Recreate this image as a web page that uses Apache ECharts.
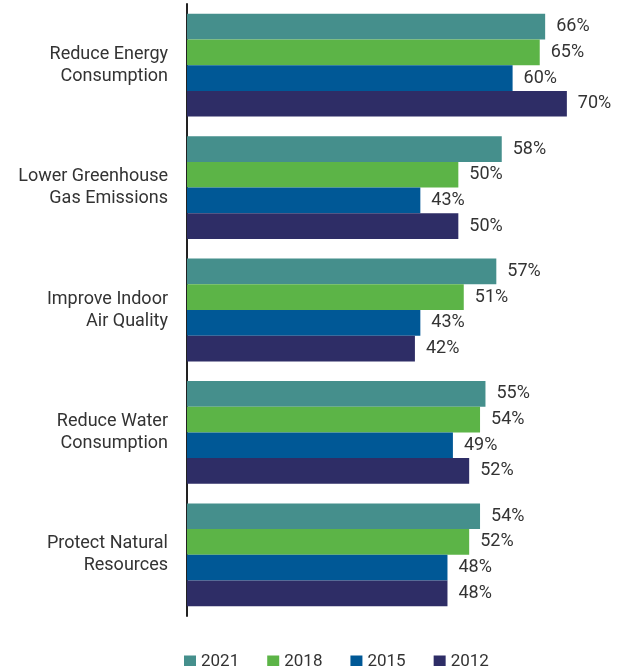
<!doctype html>
<html>
<head>
<meta charset="UTF-8">
<title>Goals</title>
<style>
html,body{margin:0;padding:0;background:#fff;}
#main{width:619px;height:666px;}
</style>
</head>
<body>
<div id="main"></div>
<script src="https://cdn.jsdelivr.net/npm/echarts@6/dist/echarts.min.js"></script>
<script>
var categories = ['Reduce Energy\nConsumption', 'Lower Greenhouse\nGas Emissions', 'Improve Indoor\nAir Quality', 'Reduce Water\nConsumption', 'Protect Natural\nResources'];
var years = ['2021', '2018', '2015', '2012'];
var v2021 = [66, 58, 57, 55, 54];
var v2018 = [65, 50, 51, 54, 52];
var v2015 = [60, 43, 43, 49, 48];
var v2012 = [70, 50, 42, 52, 48];
var colors = ['#458f8c', '#5cb447', '#005896', '#2e2d66'];

var values = [v2021, v2018, v2015, v2012];
var font = 'Roboto';

var chart = echarts.init(document.getElementById('main'));
chart.setOption({
  animation: false,
  textStyle: {fontFamily: font},
  grid: {left: 187, right: 25, top: 4, height: 612},
  legend: {
    top: 648, left: 179,
    itemWidth: 12, itemHeight: 12, itemGap: 28,
    icon: 'rect',
    textStyle: {fontSize: 17, color: '#333', fontFamily: font},
    data: years
  },
  xAxis: {
    type: 'value', min: 0, max: 75,
    show: false
  },
  yAxis: {
    type: 'category', data: categories, inverse: true,
    axisLine: {lineStyle: {color: '#222', width: 2}},
    axisTick: {show: false},
    axisLabel: {fontSize: 18, color: '#333', lineHeight: 22, margin: 19, fontFamily: font}
  },
  series: years.map(function (y, i) {
    return {
      name: y, type: 'bar', data: values[i],
      barGap: 0, barCategoryGap: '16%',
      itemStyle: {color: colors[i]},
      label: {show: true, position: 'right', distance: 11, formatter: '{c}%', fontSize: 18, color: '#333', fontFamily: font}
    };
  })
});
</script>
</body>
</html>
